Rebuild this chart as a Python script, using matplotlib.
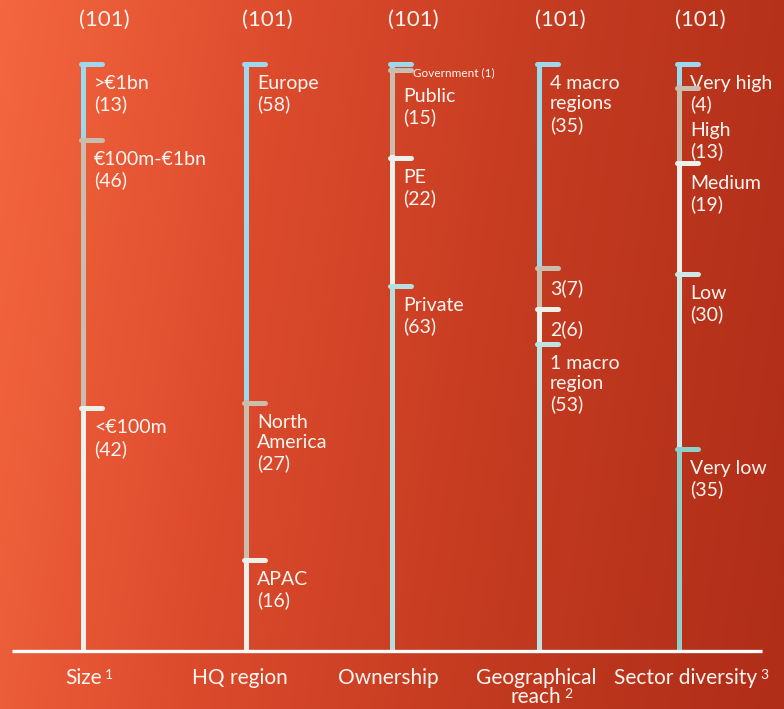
import numpy as np
import matplotlib.pyplot as plt
from matplotlib.colors import LinearSegmentedColormap

plt.rcParams['font.family'] = ['Lato', 'DejaVu Sans']

# data
total = 101
columns = ['Size', 'HQ region', 'Ownership', 'Geographical\nreach', 'Sector diversity']
notes = ['1', '', '', '2', '3']

size_names = ['>€1bn', '€100m-€1bn', '<€100m']
size_counts = [13, 46, 42]
hq_names = ['Europe', 'North\nAmerica', 'APAC']
hq_counts = [58, 27, 16]
own_names = ['Government', 'Public', 'PE', 'Private']
own_counts = [1, 15, 22, 63]
geo_names = ['4 macro\nregions', '3', '2', '1 macro\nregion']
geo_counts = [35, 7, 6, 53]
sector_names = ['Very high', 'High', 'Medium', 'Low', 'Very low']
sector_counts = [4, 13, 19, 30, 35]

# colours per segment
BLUE, TAN, WHITE = '#9ed8ec', '#c9bdad', '#eef0ec'
size_colors = [BLUE, TAN, WHITE]
hq_colors = [BLUE, TAN, WHITE]
own_colors = [BLUE, TAN, WHITE, '#b6dee0']
geo_colors = [BLUE, TAN, WHITE, '#bfe3e3']
sector_colors = [BLUE, TAN, WHITE, '#cde8e6', '#8dcfcb']

groups = [
    (size_names, size_counts, size_colors),
    (hq_names, hq_counts, hq_colors),
    (own_names, own_counts, own_colors),
    (geo_names, geo_counts, geo_colors),
    (sector_names, sector_counts, sector_colors),
]

# layout (pixel-like x units)
bar_x = [84, 247, 393, 540, 680]
W, H = 784, 709
txt = '#fff6f2'

fig = plt.figure(figsize=(W / 100, H / 100), dpi=100)

# background gradient
bg = fig.add_axes([0, 0, 1, 1])
cmap = LinearSegmentedColormap.from_list('bgc', ['#f4663f', '#dc4a2c', '#c23a20', '#b02d18'])
gx = np.linspace(0, 1, 300)
gy = np.linspace(0, 1, 300)
GX, GY = np.meshgrid(gx, gy)
bg.imshow(0.88 * GX + 0.12 * GY, cmap=cmap, aspect='auto', extent=[0, 1, 0, 1])
bg.axis('off')

ax = fig.add_axes([0, (H - 651) / H, 1, (651 - 62) / H])
ax.set_xlim(0, W)
ax.set_ylim(total, 0)
ax.axis('off')

unit = (651 - 62) / total  # pixels per count
line_px = 22

for gi, (names, counts, colors) in enumerate(groups):
    x = bar_x[gi]
    tops = np.concatenate([[0], np.cumsum(counts)[:-1]])
    ax.bar([x] * len(counts), counts, bottom=tops, width=5, color=colors, zorder=2)
    prev_bottom = -10
    for name, n, top, c in zip(names, counts, tops, colors):
        ax.plot([x - 2.5, x + 18], [top + 0.4, top + 0.4], color=c, lw=3.6,
                solid_capstyle='round', zorder=3)
        if n < 3:
            ax.text(x + 20, top + 1.9, f'{name} ({n})', fontsize=8.5, color=txt,
                    va='center', ha='left')
            prev_bottom = top + 4.0
            continue
        if name.isdigit():
            label = f'{name}({n})'
        else:
            label = f'{name}\n({n})'
        nlines = label.count('\n') + 1
        y = max(top + 2.3, prev_bottom + 0.5)
        ax.text(x + 10, y, label, fontsize=14, color=txt, va='top', ha='left',
                linespacing=1.22)
        prev_bottom = y + nlines * line_px / unit
    ax.text(x + 20, -7.2, f'({total})', fontsize=16, color=txt, ha='center', va='center',
            clip_on=False)

# baseline
ax.plot([12, 762], [total, total], color='white', lw=2.4, solid_capstyle='butt',
        clip_on=False, zorder=4)

# category labels, one text per line so the footnote sits after the last line
cat_x = [84, 240, 388, 536, 686]
for cx, name, note in zip(cat_x, columns, notes):
    lines = name.split('\n')
    t = None
    for li, line in enumerate(lines):
        t = ax.text(cx, total + 2.9 + li * 19 / unit, line, fontsize=15, color=txt,
                    ha='center', va='top', clip_on=False)
    if note:
        fig.canvas.draw()
        bb = t.get_window_extent()
        ax.annotate(note, xy=(bb.x1, bb.y1), xycoords='figure pixels',
                    xytext=(2, -1), textcoords='offset points', fontsize=10,
                    color=txt, ha='left', va='top')

fig.savefig('out.png', dpi=100)
